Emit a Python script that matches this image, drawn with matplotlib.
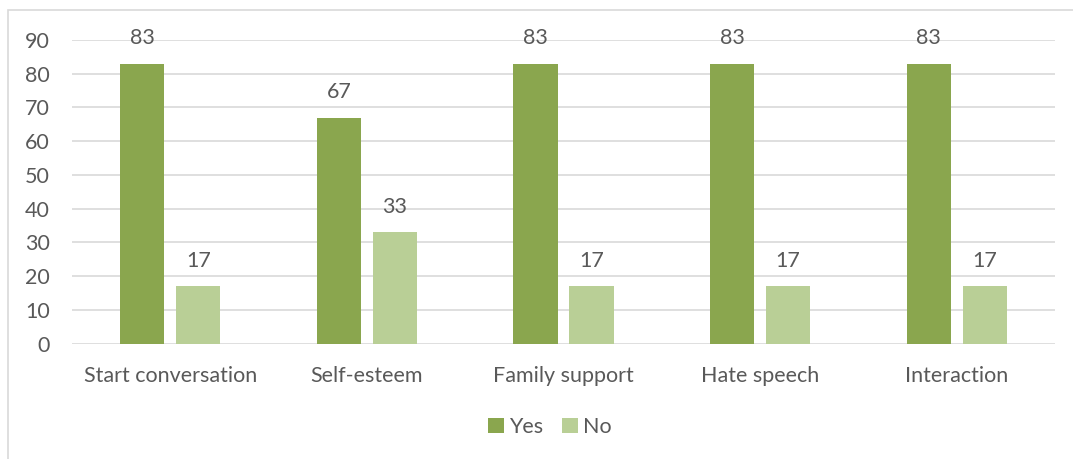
import matplotlib
matplotlib.use("Agg")
import matplotlib.pyplot as plt
import numpy as np
from matplotlib.patches import Rectangle

categories = ["Start conversation", "Self-esteem", "Family support", "Hate speech", "Interaction"]
yes_vals = [83, 67, 83, 83, 83]
no_vals = [17, 33, 17, 17, 17]
yticks = [0, 10, 20, 30, 40, 50, 60, 70, 80, 90]

plt.rcParams['font.family'] = ['Lato', 'DejaVu Sans']
txt = '#595959'
c_yes = '#8AA64E'
c_no = '#B9CF96'
fs = 15.5

fig = plt.figure(figsize=(10.73, 4.59), dpi=100)
fig.patches.append(Rectangle((8/1073, -0.1), 1.2, 1 - 10/459 + 0.1, transform=fig.transFigure,
                             fill=False, edgecolor='#D9D9D9', linewidth=1.2))
ax = fig.add_axes([72/1073, 1 - 343.5/459, (1055-72)/1073, (343.5-40)/459])

x = np.arange(len(categories))
w = 0.224
off = 0.1424
b1 = ax.bar(x - off, yes_vals, w, color=c_yes, label='Yes', zorder=3)
b2 = ax.bar(x + off, no_vals, w, color=c_no, label='No', zorder=3)
for bars, vals in ((b1, yes_vals), (b2, no_vals)):
    for r, v in zip(bars, vals):
        ax.annotate(str(v), (r.get_x() + r.get_width()/2, v), xytext=(0, 11),
                    textcoords='offset points', ha='center', va='bottom',
                    fontsize=fs, color=txt)

ax.set_xlim(-0.5, len(categories) - 0.5)
ax.set_ylim(0, 90)
ax.set_yticks(yticks)
ax.set_xticks(x)
ax.set_xticklabels(categories)
ax.grid(axis='y', color='#D9D9D9', linewidth=1.2, zorder=0)
for s in ax.spines.values():
    s.set_visible(False)
ax.tick_params(axis='both', length=0, labelsize=fs, colors=txt)
ax.tick_params(axis='x', pad=16)
ax.tick_params(axis='y', pad=16)

leg = fig.legend(handles=[b1, b2], labels=['Yes', 'No'], loc='center',
                 bbox_to_anchor=(550/1073, 1 - 427/459), ncol=2, frameon=False,
                 fontsize=fs, handlelength=0.7, handleheight=0.7, columnspacing=0.9,
                 handletextpad=0.25)
for t in leg.get_texts():
    t.set_color(txt)

fig.savefig('out.png', dpi=100)
